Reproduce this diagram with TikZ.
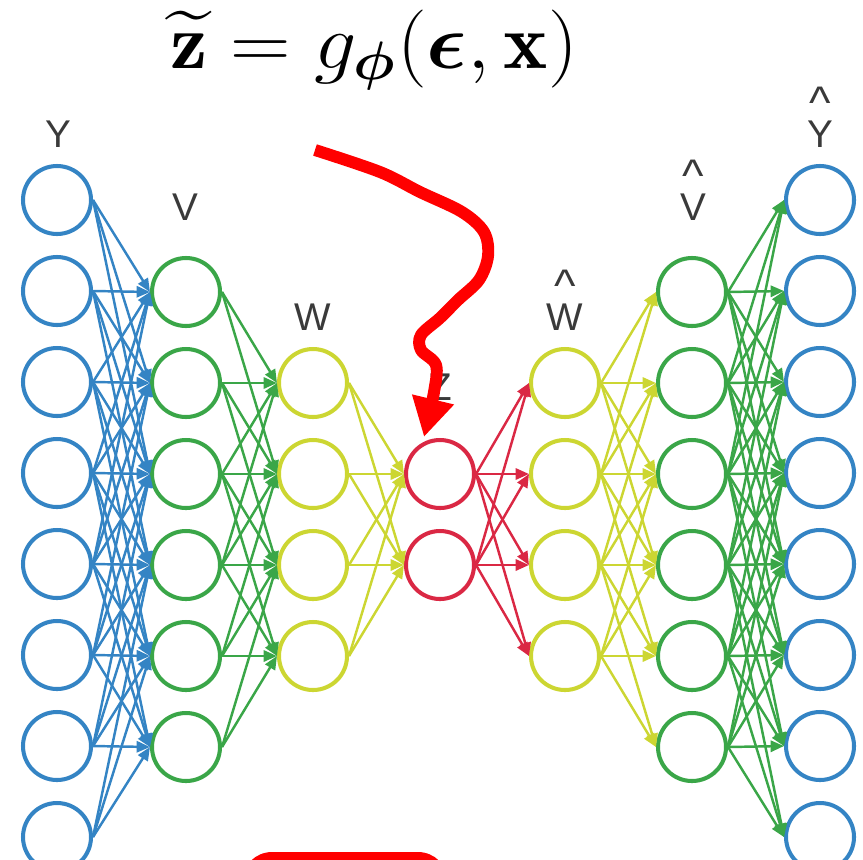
\documentclass[tikz,border=0pt]{standalone}
\usepackage{amsmath}
\usepackage{fontspec}
\newfontfamily\labelfont{Liberation Sans}
\usetikzlibrary{arrows.meta}

\definecolor{layerblue}{RGB}{52,132,196}
\definecolor{layergreen}{RGB}{58,166,72}
\definecolor{layeryellow}{RGB}{204,214,50}
\definecolor{layerred}{RGB}{218,40,68}
\definecolor{labelgray}{RGB}{58,58,58}

\newcommand{\hatlabel}[1]{\shortstack{{\fontsize{13}{13}\selectfont\textasciicircum}\\[-2.5pt]#1}}

\begin{document}
\begin{tikzpicture}[
  x=0.1mm, y=-0.1mm,
  neuron/.style={circle, draw, line width=1.15pt, minimum size=6.8mm, inner sep=0pt},
  link/.style={line width=0.7pt, -{Triangle[length=3.8pt, width=3.2pt]}},
  layerlabel/.style={anchor=base, text=labelgray, font=\labelfont\fontsize{11}{13}\selectfont},
  handarrow/.style={draw=red, line width=3.4pt, line join=round, -{Triangle[length=11pt, width=11.5pt]}},
]
\useasboundingbox (0,0) rectangle (863,859);

% --- formula ---
\node[inner sep=0pt, xscale=1.15, yscale=1.07] (formula) at (374,50) {\fontsize{20.74}{25}\selectfont
  $\widetilde{\mathbf{z}} = g_{\boldsymbol{\phi}}(\boldsymbol{\epsilon}, \mathbf{x})$};

% --- layer labels ---
\node[layerlabel] (labY)  at (58,147)  {Y};
\node[layerlabel] (labV)  at (185,220) {V};
\node[layerlabel] (labW)  at (313,330) {W};
\node[layerlabel] (labZ)  at (440,400) {Z};
\node[layerlabel] (labWh) at (565,330) {\hatlabel{W}};
\node[layerlabel] (labVh) at (693,220) {\hatlabel{V}};
\node[layerlabel] (labYh) at (820,147) {\hatlabel{Y}};

% --- neurons ---
\foreach \i in {1,...,8} {
  \node[neuron, draw=layerblue] (y\i) at (57,109+91*\i) {};
  \node[neuron, draw=layerblue] (yh\i) at (820,109+91*\i) {};
}
\foreach \i in {1,...,6} {
  \node[neuron, draw=layergreen] (v\i) at (186,201+91*\i) {};
  \node[neuron, draw=layergreen] (vh\i) at (692,201+91*\i) {};
}
\foreach \i in {1,...,4} {
  \node[neuron, draw=layeryellow] (w\i) at (313,292+91*\i) {};
  \node[neuron, draw=layeryellow] (wh\i) at (565,292+91*\i) {};
}
\foreach \i in {1,2}
  \node[neuron, draw=layerred] (z\i) at (440,383+91*\i) {};

% --- encoder links (only between nearby rows) ---
\foreach \i in {1,...,8}
  \foreach \j in {1,...,6} {
    \pgfmathtruncatemacro{\gap}{abs(\j-\i+1)}
    \ifnum\gap<4 \draw[link, layerblue] (y\i.east) -- (v\j.west); \fi
  }
\foreach \i in {1,...,6}
  \foreach \j in {1,...,4} {
    \pgfmathtruncatemacro{\gap}{abs(\j-\i+1)}
    \ifnum\gap<3 \draw[link, layergreen] (v\i.east) -- (w\j.west); \fi
  }
\foreach \i in {1,...,4}
  \foreach \j in {1,2}
    \draw[link, layeryellow] (w\i.east) -- (z\j.west);

% --- decoder links ---
\foreach \i in {1,2}
  \foreach \j in {1,...,4}
    \draw[link, layerred] (z\i.east) -- (wh\j.west);
\foreach \i in {1,...,4}
  \foreach \j in {1,...,6} {
    \pgfmathtruncatemacro{\gap}{abs(\j-\i-1)}
    \ifnum\gap<3 \draw[link, layeryellow] (wh\i.east) -- (vh\j.west); \fi
  }
\foreach \i in {1,...,6}
  \foreach \j in {1,...,8} {
    \pgfmathtruncatemacro{\gap}{abs(\j-\i-1)}
    \ifnum\gap<4 \draw[link, layergreen] (vh\i.east) -- (yh\j.west); \fi
  }

% --- hand-drawn arrow into z ---
\draw[handarrow] plot[smooth, tension=0.55] coordinates {
  (315,150) (380,172) (420,192) (462,212) (484,232) (488,256) (479,280)
  (458,300) (440,318) (421,335) (421,350) (436,365) (434,392) (424,437)};

% --- box at the bottom edge ---
\fill[red, rounded corners=3mm] (242,852) rectangle (448,930);
\end{tikzpicture}
\end{document}
